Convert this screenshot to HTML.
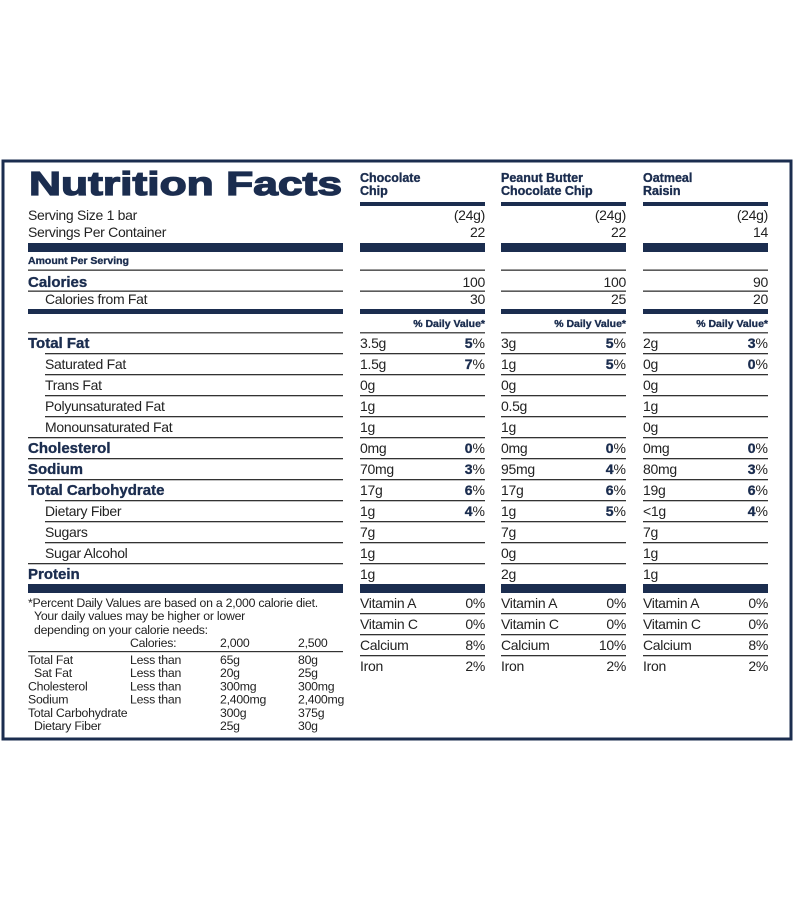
<!DOCTYPE html>
<html><head><meta charset="utf-8"><style>
html,body{margin:0;padding:0;background:#fff;}
svg{display:block;}
text{font-family:"Liberation Sans",Arial,sans-serif;fill:#222;}
.b{font-weight:bold;fill:#1b2d4f;stroke:#1b2d4f;stroke-width:0.35;}
.n{letter-spacing:-0.3px;}
.f{letter-spacing:-0.25px;}
</style></head><body>
<svg id="s" width="800" height="900" xmlns="http://www.w3.org/2000/svg">
<rect x="3" y="161" width="788" height="578" fill="none" stroke="#1b2d4f" stroke-width="3"/>
<text x="29" y="195" class="b" font-size="33" textLength="313" lengthAdjust="spacingAndGlyphs" style="font-weight:900;stroke-width:1.3">Nutrition Facts</text>
<text x="28" y="220" font-size="14" class="n">Serving Size 1 bar</text>
<text x="28" y="237" font-size="14" class="n">Servings Per Container</text>
<rect x="28" y="243" width="315" height="9" fill="#1b2d4f"/>
<text x="28" y="264" class="b" font-size="10.5">Amount Per Serving</text>
<rect x="28" y="269.5" width="315" height="1.3" fill="#333"/>
<text x="28" y="287" class="b" font-size="15">Calories</text>
<rect x="28" y="290.5" width="315" height="1.3" fill="#333"/>
<text x="45" y="304" font-size="14" class="n">Calories from Fat</text>
<rect x="28" y="309" width="315" height="5" fill="#1b2d4f"/>
<rect x="28" y="332" width="315" height="1.5" fill="#555"/>
<g id="g"></g>
<rect x="28" y="584" width="315" height="9" fill="#1b2d4f"/>
<text x="28" y="607" font-size="12.3" class="f">*Percent Daily Values are based on a 2,000 calorie diet.</text>
<text x="34" y="620" font-size="12.3" class="f">Your daily values may be higher or lower</text>
<text x="34" y="634" font-size="12.3" class="f">depending on your calorie needs:</text>
<text x="130" y="647" font-size="12.3" class="f">Calories:</text>
<text x="220" y="647" font-size="12.3" class="f">2,000</text>
<text x="298" y="647" font-size="12.3" class="f">2,500</text>
<rect x="28" y="651" width="315" height="1.2" fill="#333"/>
</svg>
<script>
var g=document.getElementById('g'),h='';
function T(x,y,s,sz,cls,anchor){h+='<text x="'+x+'" y="'+y+'" font-size="'+(sz||14)+'"'+(cls?' class="'+cls+'"':'')+(anchor?' text-anchor="'+anchor+'"':'')+'>'+s+'</text>';}
function R(x,y,w,hh,c){h+='<rect x="'+x+'" y="'+y+'" width="'+w+'" height="'+hh+'" fill="'+(c||'#333')+'"/>';}
var rows=[["Total Fat",1],["Saturated Fat",0],["Trans Fat",0],["Polyunsaturated Fat",0],["Monounsaturated Fat",0],["Cholesterol",1],["Sodium",1],["Total Carbohydrate",1],["Dietary Fiber",0],["Sugars",0],["Sugar Alcohol",0],["Protein",1]];
for(var i=0;i<rows.length;i++){var c=343+21*i;
 if(rows[i][1])T(28,c+5,rows[i][0],15,'b');else T(45,c+5,rows[i][0],14,'n');
 if(i<11){var nx=rows[i+1][1]?28:45;R(nx,c+10,343-nx,1.3);}
}
var cols=[360,501,643];
var names=[["Chocolate","Chip"],["Peanut Butter","Chocolate Chip"],["Oatmeal","Raisin"]];
var sv=[["22","100","30"],["22","100","25"],["14","90","20"]];
var d=[
[["3.5g",5],["1.5g",7],["0g"],["1g"],["1g"],["0mg",0],["70mg",3],["17g",6],["1g",4],["7g"],["1g"],["1g"]],
[["3g",5],["1g",5],["0g"],["0.5g"],["1g"],["0mg",0],["95mg",4],["17g",6],["1g",5],["7g"],["0g"],["2g"]],
[["2g",3],["0g",0],["0g"],["1g"],["0g"],["0mg",0],["80mg",3],["19g",6],["<1g",4],["7g"],["1g"],["1g"]]];
var vit=[[0,0,8,2],[0,0,10,2],[0,0,8,2]];
var vn=["Vitamin A","Vitamin C","Calcium","Iron"];
for(var k=0;k<3;k++){var x=cols[k],e=x+125;
 T(x,182,names[k][0],12.5,'b');T(x,195,names[k][1],12.5,'b');
 R(x,202,125,4,'#1b2d4f');
 T(e,220,'(24g)',14,'n','end');T(e,237,sv[k][0],14,'n','end');
 R(x,243,125,9,'#1b2d4f');
 R(x,269.5,125,1.3);
 T(e,287,sv[k][1],14,'n','end');
 R(x,290.5,125,1.3);
 T(e,304,sv[k][2],14,'n','end');
 R(x,309,125,5,'#1b2d4f');
 T(e,327,'% Daily Value*',10.5,'b','end');
 R(x,332,125,1.5,'#555');
 for(var i=0;i<12;i++){var c=343+21*i;var r=d[k][i];
  T(x,c+5,r[0].replace('<','&lt;'),14,'n');
  if(r.length>1)h+='<text x="'+e+'" y="'+(c+5)+'" font-size="14" text-anchor="end"><tspan class="b" style="font-weight:900">'+r[1]+'</tspan>%</text>';
  if(i<11)R(x,c+10,125,1.3);}
 R(x,584,125,9,'#1b2d4f');
 for(var j=0;j<4;j++){var c=603+21*j;T(x,c+5,vn[j],14,'n');T(e,c+5,vit[k][j]+'%',14,'n','end');if(j<3)R(x,c+10,125,1.3);}
}
var ft=[["Total Fat","Less than","65g","80g",28],["Sat Fat","Less than","20g","25g",34],["Cholesterol","Less than","300mg","300mg",28],["Sodium","Less than","2,400mg","2,400mg",28],["Total Carbohydrate","","300g","375g",28],["Dietary Fiber","","25g","30g",34]];
for(var i=0;i<6;i++){var y=664+13.2*i;T(ft[i][4],y,ft[i][0],12.3,'f');T(130,y,ft[i][1],12.3,'f');T(220,y,ft[i][2],12.3,'f');T(298,y,ft[i][3],12.3,'f');}
g.innerHTML=h;
</script>
</body></html>
